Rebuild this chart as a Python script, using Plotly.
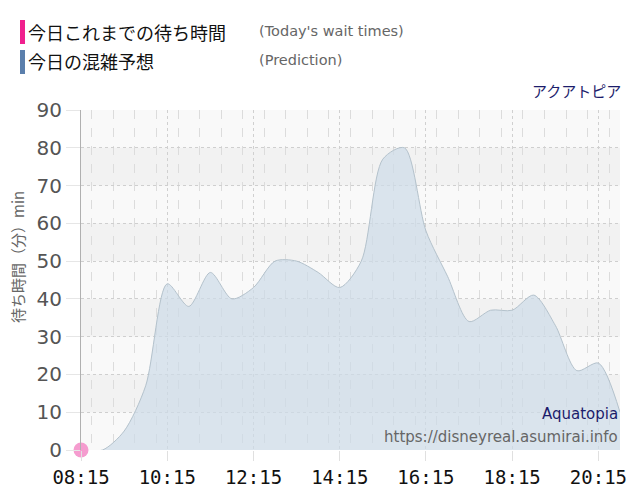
import plotly.graph_objects as go

times = ["08:15", "08:45", "09:15", "09:45", "10:15", "10:45", "11:15", "11:45",
         "12:15", "12:45", "13:15", "13:45", "14:15", "14:45", "15:15", "15:45",
         "16:15", "16:45", "17:15", "17:45", "18:15", "18:45", "19:15", "19:45",
         "20:15", "20:45"]
prediction = [0, 0, 5, 17, 44, 38, 47, 40, 43, 50, 50, 47, 43, 50, 77, 80,
              58, 46, 34, 37, 37, 41, 33, 21, 23, 10]
actual_times = ["08:15"]
actual_values = [0]

day = "2024-01-01 "
xs = [day + t for t in times]
xa = [day + t for t in actual_times]

fig = go.Figure()

# alternating bands
for lo in range(10, 90, 20):
    fig.add_shape(type="rect", xref="paper", yref="y", x0=0, x1=1, y0=lo, y1=lo + 10,
                  fillcolor="#f2f2f2", line_width=0, layer="below")

fig.add_trace(go.Scatter(
    x=xs, y=prediction, mode="lines", fill="tozeroy",
    line=dict(color="#b4c2cc", width=1, shape="spline", smoothing=0.8),
    fillcolor="rgba(205,219,231,0.72)", hoverinfo="skip", showlegend=False))

fig.add_trace(go.Scatter(
    x=xa, y=actual_values, mode="markers",
    marker=dict(color="#f59ccf", size=15, line=dict(width=0)),
    showlegend=False, cliponaxis=False))

# page has an 8px body margin: plot area at page x 81..620, y 110..450
fig.update_layout(
    width=640, height=500,
    margin=dict(l=73, r=28, t=102, b=58),
    paper_bgcolor="white", plot_bgcolor="#f9f9f9",
    font=dict(family="DejaVu Sans"),
    xaxis=dict(
        type="date", range=[day + "08:15", day + "20:45"],
        tick0=day + "08:15", dtick=2 * 3600 * 1000, tickformat="%H:%M",
        tickfont=dict(family="DejaVu Sans Mono", size=19, color="#111"),
        ticks="outside", ticklen=10, tickcolor="#e0e0e0",
        showgrid=True, gridcolor="#d0d0d0", griddash="dot", gridwidth=1,
        minor=dict(dtick=30 * 60 * 1000, showgrid=True, gridcolor="#dcdcdc",
                   griddash="dash", gridwidth=1),
        showline=False, zeroline=False, fixedrange=True),
    yaxis=dict(
        range=[0, 90], dtick=10, tick0=0,
        tickfont=dict(size=20, color="#555"),
        ticks="outside", ticklen=14, tickcolor="#e6e6e6",
        showgrid=True, gridcolor="#cfcfcf", griddash="dot", gridwidth=1,
        showline=True, linecolor="#b0b0b0", linewidth=1,
        zeroline=False, fixedrange=True),
)


def px_x(px):
    return (px - 81) / 539.0


def px_y(py):
    return (450 - py) / 340.0


fig.add_shape(type="rect", xref="paper", yref="paper",
              x0=px_x(20), x1=px_x(25), y0=px_y(44), y1=px_y(20),
              fillcolor="#f0208e", line_width=0)
fig.add_shape(type="rect", xref="paper", yref="paper",
              x0=px_x(20), x1=px_x(25), y0=px_y(74), y1=px_y(50),
              fillcolor="#5b7fac", line_width=0)

cjk = "Noto Sans CJK JP"
fig.add_annotation(xref="paper", yref="paper", x=px_x(26), y=px_y(32), text="今日これまでの待ち時間",
                   showarrow=False, xanchor="left", yanchor="middle",
                   font=dict(family=cjk, size=18, color="#111"))
fig.add_annotation(xref="paper", yref="paper", x=px_x(26), y=px_y(61), text="今日の混雑予想",
                   showarrow=False, xanchor="left", yanchor="middle",
                   font=dict(family=cjk, size=18, color="#111"))
fig.add_annotation(xref="paper", yref="paper", x=px_x(257), y=px_y(31), text="(Today's wait times)",
                   showarrow=False, xanchor="left", yanchor="middle",
                   font=dict(family="DejaVu Sans", size=14.5, color="#666"))
fig.add_annotation(xref="paper", yref="paper", x=px_x(257), y=px_y(60), text="(Prediction)",
                   showarrow=False, xanchor="left", yanchor="middle",
                   font=dict(family="DejaVu Sans", size=14.5, color="#666"))
fig.add_annotation(xref="paper", yref="paper", x=px_x(623), y=px_y(90), text="アクアトピア",
                   showarrow=False, xanchor="right", yanchor="middle",
                   font=dict(family=cjk, size=15, color="#1c1c6b"))
fig.add_annotation(xref="paper", yref="paper", x=px_x(620), y=px_y(414), text="Aquatopia",
                   showarrow=False, xanchor="right", yanchor="middle",
                   font=dict(family="DejaVu Sans", size=15, color="#1c1c6b"))
fig.add_annotation(xref="paper", yref="paper", x=px_x(620), y=px_y(437),
                   text="https://disneyreal.asumirai.info",
                   showarrow=False, xanchor="right", yanchor="middle",
                   font=dict(family="DejaVu Sans", size=15, color="#666"))
fig.add_annotation(xref="paper", yref="paper", x=px_x(17), y=px_y(257),
                   text="待ち時間（分）min", textangle=-90,
                   showarrow=False, xanchor="center", yanchor="middle",
                   font=dict(family=cjk, size=15, color="#666"))

fig.write_html("out.html")
